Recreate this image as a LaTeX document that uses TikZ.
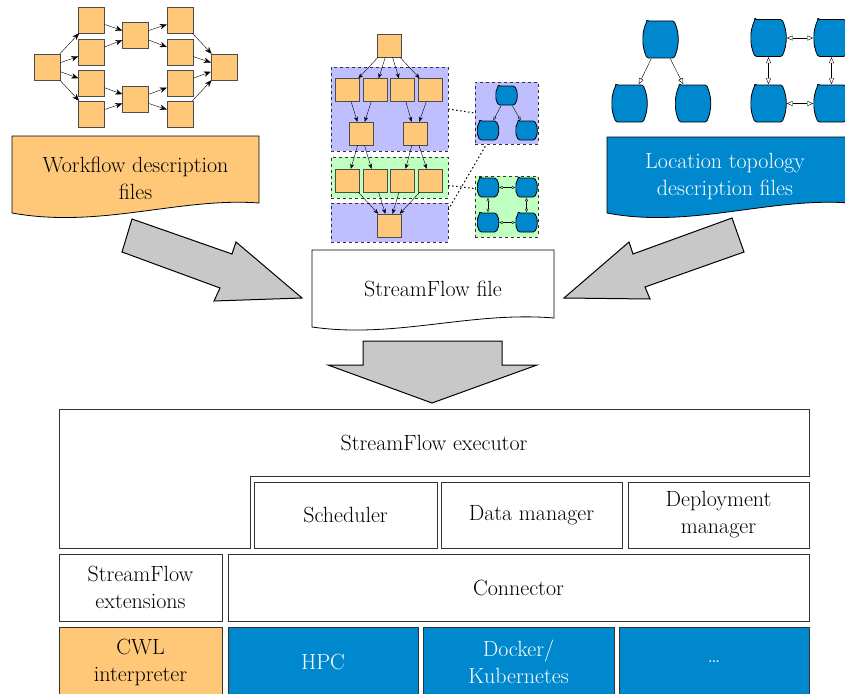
\documentclass[tikz,border=0pt]{standalone}
\usepackage{tikz}
\usetikzlibrary{arrows.meta}

\definecolor{wforange}{HTML}{FFC878}
\definecolor{locblue}{HTML}{0088CF}
\definecolor{grplav}{HTML}{BFBFFF}
\definecolor{grpgreen}{HTML}{BFFFBF}
\definecolor{arrgray}{HTML}{C8C8C8}
\newcommand{\diagfont}{\fontsize{22}{27}\selectfont}

\begin{document}
\begin{tikzpicture}[x=1pt,y=-1pt,
    wf/.style={draw=black!70,fill=wforange,minimum width=26pt,minimum height=26pt,inner sep=0pt},
    wfs/.style={wf,minimum width=24pt,minimum height=23pt},
    barrel/.style n args={5}{minimum width=#1,minimum height=#2,inner sep=0pt,
        path picture={\draw[fill=locblue,line width=0.8pt,rounded corners=1.5pt]
            ([shift={(#3,-0.5pt)}]path picture bounding box.north west)
            -- ([shift={(-#3,-0.5pt)}]path picture bounding box.north east)
            .. controls +(#4,-#5) and +(#4,#5) ..
            ([shift={(-#3,0.5pt)}]path picture bounding box.south east)
            -- ([shift={(#3,0.5pt)}]path picture bounding box.south west)
            .. controls +(-#4,#5) and +(-#4,-#5) ..
            ([shift={(#3,-0.5pt)}]path picture bounding box.north west) -- cycle;}},
    loc/.style={barrel={36pt}{38pt}{4.5pt}{5.5pt}{12pt}},
    locs/.style={barrel={22pt}{20pt}{3pt}{3.6pt}{6pt}},
    grp/.style={draw=black!80,dashed,inner sep=0pt},
    layer/.style={draw=black!80,line width=0.8pt,align=center,inner sep=0pt,font=\diagfont},
    doc/.style={draw=black,line width=0.8pt},
    bigarr/.style={fill=arrgray,draw=black,line width=1pt,line join=miter},
    wfarr/.style={-{Stealth[length=7pt,width=5.5pt]}},
    wfsarr/.style={-{Stealth[length=5pt,width=4pt]}},
    locarr/.style={-{Triangle[open,length=6pt,width=5pt]}},
    locbi/.style={{Triangle[open,length=6pt,width=5pt]}-{Triangle[open,length=6pt,width=5pt]}},
    locsarr/.style={-{Triangle[open,length=3.5pt,width=3pt]}},
    locsbi/.style={{Triangle[open,length=3.5pt,width=3pt]}-{Triangle[open,length=3.5pt,width=3pt]}},
    link/.style={dash pattern=on 1.5pt off 2.5pt,line width=1pt}]

    \useasboundingbox (0,0) rectangle (845,693);

    % Workflow graph
    \node[wf] (w1) at (47.5,67) {};
    \node[wf] (w2) at (91.5,20) {};
    \node[wf] (w3) at (91.5,52) {};
    \node[wf] (w4) at (91.5,83) {};
    \node[wf] (w5) at (91.5,114) {};
    \node[wf] (w6) at (135.5,35) {};
    \node[wf] (w7) at (135.5,99) {};
    \node[wf] (w8) at (180,20) {};
    \node[wf] (w9) at (180,52) {};
    \node[wf] (w10) at (180,83) {};
    \node[wf] (w11) at (180,114) {};
    \node[wf] (w12) at (224,67) {};

    \draw[wfarr] (w1) -- (w2);
    \draw[wfarr] (w1) -- (w3);
    \draw[wfarr] (w1) -- (w4);
    \draw[wfarr] (w1) -- (w5);
    \draw[wfarr] (w2) -- (w6);
    \draw[wfarr] (w3) -- (w6);
    \draw[wfarr] (w4) -- (w7);
    \draw[wfarr] (w5) -- (w7);
    \draw[wfarr] (w6) -- (w8);
    \draw[wfarr] (w6) -- (w9);
    \draw[wfarr] (w7) -- (w10);
    \draw[wfarr] (w7) -- (w11);
    \draw[wfarr] (w8) -- (w12);
    \draw[wfarr] (w9) -- (w12);
    \draw[wfarr] (w10) -- (w12);
    \draw[wfarr] (w11) -- (w12);

    % Mapped workflow
    \node[grp,fill=grplav,minimum width=117pt,minimum height=84pt] (g1) at (389.5,109) {};
    \node[grp,fill=grpgreen,minimum width=117pt,minimum height=41pt] (g2) at (389.5,177.5) {};
    \node[grp,fill=grplav,minimum width=117pt,minimum height=39pt] (g3) at (389.5,222.5) {};
    \node[grp,fill=grplav,minimum width=63pt,minimum height=62pt] (sg1) at (506.5,113) {};
    \node[grp,fill=grpgreen,minimum width=63pt,minimum height=61pt] (sg2) at (506.5,206.5) {};

    \node[wfs] (m0) at (389,45.5) {};
    \node[wfs] (m1) at (347.5,90) {};
    \node[wfs] (m2) at (375,90) {};
    \node[wfs] (m3) at (402.5,90) {};
    \node[wfs] (m4) at (430.5,90) {};
    \node[wfs] (m5) at (361,133.5) {};
    \node[wfs] (m6) at (415,133.5) {};
    \node[wfs] (m7) at (347.5,180.5) {};
    \node[wfs] (m8) at (375,180.5) {};
    \node[wfs] (m9) at (402.5,180.5) {};
    \node[wfs] (m10) at (430.5,180.5) {};
    \node[wfs] (m11) at (389,225.5) {};

    \draw[wfsarr] (m0) -- (m1);
    \draw[wfsarr] (m0) -- (m2);
    \draw[wfsarr] (m0) -- (m3);
    \draw[wfsarr] (m0) -- (m4);
    \draw[wfsarr] (m1) -- (m5);
    \draw[wfsarr] (m2) -- (m5);
    \draw[wfsarr] (m3) -- (m6);
    \draw[wfsarr] (m4) -- (m6);
    \draw[wfsarr] (m5) -- (m7);
    \draw[wfsarr] (m5) -- (m8);
    \draw[wfsarr] (m6) -- (m9);
    \draw[wfsarr] (m6) -- (m10);
    \draw[wfsarr] (m7) -- (m11);
    \draw[wfsarr] (m8) -- (m11);
    \draw[wfsarr] (m9) -- (m11);
    \draw[wfsarr] (m10) -- (m11);

    \node[locs] (s1) at (506.5,95.5) {};
    \node[locs] (s2) at (488,130.5) {};
    \node[locs] (s3) at (526.5,130.5) {};
    \node[locs] (s4) at (488,187.5) {};
    \node[locs] (s5) at (526.5,187.5) {};
    \node[locs] (s6) at (488,222.5) {};
    \node[locs] (s7) at (526.5,222.5) {};

    \draw[locsarr] (s1) -- (s2);
    \draw[locsarr] (s1) -- (s3);
    \draw[locsbi] (s4) -- (s5);
    \draw[locsbi] (s6) -- (s7);
    \draw[locsbi] (s4) -- (s6);
    \draw[locsbi] (s5) -- (s7);

    \draw[link] (g1.east) -- (sg1.west);
    \draw[link] ([yshift=-8pt]g2.east) -- ([yshift=18pt]sg2.west);
    \draw[link] ([yshift=-7pt]g3.north east) -- ([xshift=-20pt]sg1.south);

    % Location graphs
    \node[loc] (l1) at (660.5,39.5) {};
    \node[loc] (l2) at (629.5,103.5) {};
    \node[loc] (l3) at (693,103.5) {};
    \node[loc] (l4) at (768.5,38) {};
    \node[loc] (l5) at (831.5,38) {};
    \node[loc] (l6) at (768.5,103.5) {};
    \node[loc] (l7) at (831.5,103.5) {};

    \draw[locarr] (l1) -- (l2);
    \draw[locarr] (l1) -- (l3);
    \draw[locbi] (l4) -- (l5);
    \draw[locbi] (l6) -- (l7);
    \draw[locbi] (l4) -- (l6);
    \draw[locbi] (l5) -- (l7);

    % Description files
    \draw[doc,fill=wforange] (12,136) -- (259,136) -- (259,203)
        .. controls (180,197) and (100,229) .. (12,213) -- cycle;
    \node[font=\diagfont,align=center] (wfdesc) at (135.5,178) {Workflow description\\files};

    \draw[doc,fill=locblue] (607,137) -- (850,137) -- (850,203)
        .. controls (770,197) and (690,229) .. (607,213) -- cycle;
    \node[font=\diagfont,align=center,text=white] (locdesc) at (725,177) {Location topology\\description files};

    \draw[doc,fill=white] (312,250) -- (554,250) -- (554,318)
        .. controls (470,311) and (395,339) .. (312,327) -- cycle;
    \node[font=\diagfont] (sffile) at (433,289) {StreamFlow file};

    % Big arrows
    \draw[bigarr] (132,219) -- (232,254) -- (236,242) -- (302,298) -- (214,301)
        -- (220,288) -- (122,252) -- cycle;
    \draw[bigarr] (732,218) -- (744,252) -- (645,287) -- (650,299) -- (564,298)
        -- (629,242) -- (633,254) -- cycle;
    \draw[bigarr] (363,341) -- (502,341) -- (502,365) -- (537,365) -- (432,403)
        -- (328,365) -- (363,365) -- cycle;

    % Layers
    \draw[draw=black!80,line width=0.8pt] (59,409) -- (809,409) -- (809,476) -- (250,476)
        -- (250,548) -- (59,548) -- cycle;
    \node[font=\diagfont] (executor) at (434,443) {StreamFlow executor};

    \node[layer,minimum width=183pt,minimum height=66pt] (sched) at (345.5,515) {Scheduler};
    \node[layer,minimum width=181pt,minimum height=66pt] (datamgr) at (531.5,515) {Data manager};
    \node[layer,minimum width=181pt,minimum height=66pt] (deploy) at (718.5,515) {Deployment\\manager};

    \node[layer,minimum width=163pt,minimum height=67pt] (ext) at (140.5,587.5) {StreamFlow\\extensions};
    \node[layer,minimum width=581pt,minimum height=67pt] (conn) at (518.5,587.5) {Connector};

    \node[layer,fill=wforange,minimum width=163pt,minimum height=70pt] (cwl) at (140.5,662) {CWL\\interpreter};
    \node[layer,fill=locblue,text=white,minimum width=190pt,minimum height=70pt] (hpc) at (323,662) {HPC};
    \node[layer,fill=locblue,text=white,minimum width=191pt,minimum height=70pt] (docker) at (518.5,662) {Docker/\\Kubernetes};
    \node[layer,fill=locblue,text=white,minimum width=190pt,minimum height=70pt] (more) at (714,662) {\ldots};

\end{tikzpicture}
\end{document}
